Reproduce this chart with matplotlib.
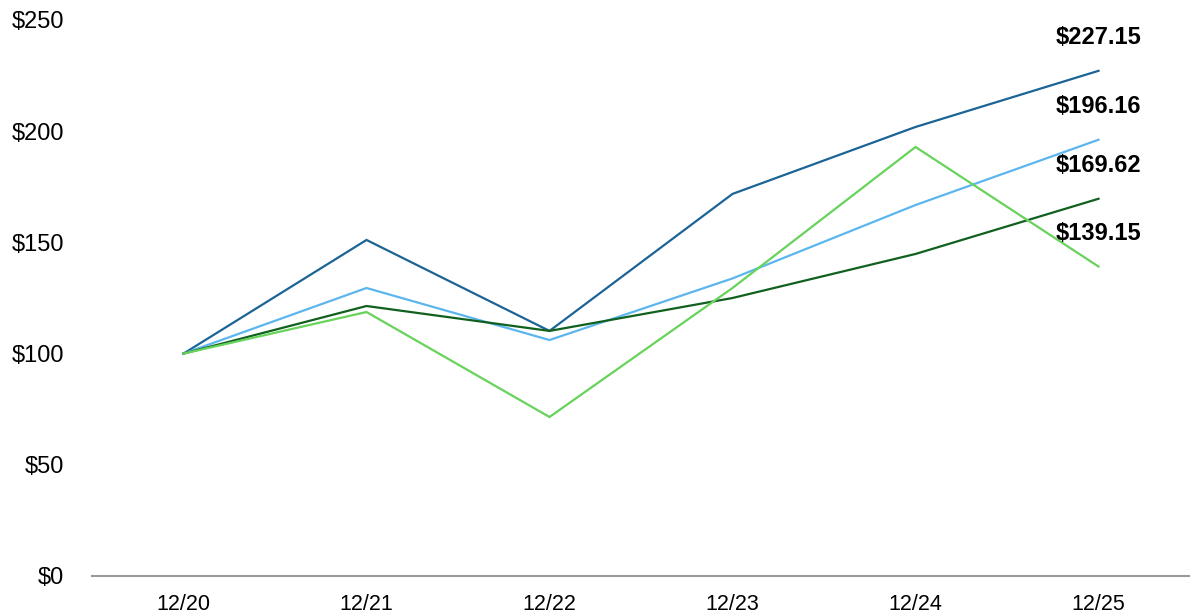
import matplotlib
matplotlib.use("Agg")
import matplotlib.pyplot as plt

categories = ["12/20", "12/21", "12/22", "12/23", "12/24", "12/25"]
series_dark_blue = [100, 151.1, 110.2, 171.8, 201.9, 227.15]
series_light_blue = [100, 129.5, 106.1, 133.8, 166.8, 196.16]
series_dark_green = [100, 121.4, 110.2, 125.0, 144.8, 169.62]
series_light_green = [100, 118.7, 71.5, 129.5, 192.9, 139.15]
end_labels = ["$227.15", "$196.16", "$169.62", "$139.15"]
y_ticks = [0, 50, 100, 150, 200, 250]

plt.rcParams['font.family'] = ['Liberation Sans', 'DejaVu Sans']

fig = plt.figure(figsize=(11.9, 6.14), dpi=100)
ax = fig.add_axes([92/1190, 1 - 576/614, 1 - 92/1190, (576 - 20)/614])

x = list(range(len(categories)))
series = [series_dark_blue, series_light_blue, series_dark_green, series_light_green]
colors = ["#1A6496", "#5CB6EE", "#11601F", "#67D35B"]
for s, c, lab in zip(series, colors, end_labels):
    ax.plot(x, s, color=c, lw=1.6, solid_joinstyle='miter')
    ax.annotate(lab, (x[-1], s[-1]), xytext=(0, 24), textcoords='offset points',
                ha='center', va='center', fontsize=17, fontweight='bold', color='black')

ax.set_xlim(-0.5, len(categories) - 0.5)
ax.set_ylim(0, 250)
ax.set_xticks(x)
ax.set_xticklabels(categories, fontsize=15.5)
ax.set_yticks(y_ticks)
ax.set_yticklabels([f"${v}" for v in y_ticks], fontsize=17)
for sp in ["top", "right", "left"]:
    ax.spines[sp].set_visible(False)
ax.spines["bottom"].set_color("#999999")
ax.spines["bottom"].set_linewidth(1.5)
ax.tick_params(axis='both', length=0)
ax.tick_params(axis='x', pad=13)
ax.tick_params(axis='y', pad=20)

fig.savefig("out.png", dpi=100)
